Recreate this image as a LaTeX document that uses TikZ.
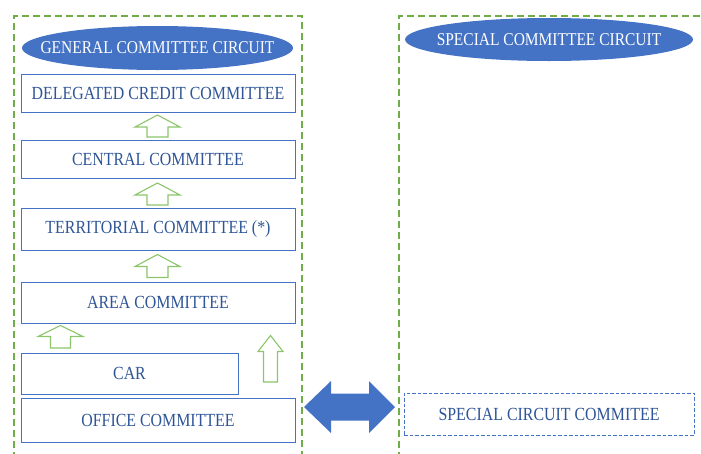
\documentclass[tikz,border=0pt]{standalone}
\usepackage{fontspec}
\setmainfont{Liberation Serif}[FakeStretch=0.86]
\usetikzlibrary{shapes.geometric}
\definecolor{boxblue}{HTML}{4472C4}
\definecolor{txtblue}{HTML}{2F5597}
\definecolor{dashgreen}{HTML}{70AD47}
\definecolor{arrowgreen}{HTML}{8CC56A}
\tikzset{
  circuitframe/.style={draw=dashgreen, line width=1.2pt, dash pattern=on 7pt off 4pt},
  stepbox/.style={draw=boxblue, line width=0.9pt, fill=white, text=txtblue,
    font=\fontsize{18.5}{21}\selectfont, inner sep=0pt, anchor=center},
  specialbox/.style={stepbox, dash pattern=on 3.5pt off 2pt},
  circuithead/.style={ellipse, fill=boxblue, draw=none, inner sep=0pt, anchor=center},
  headtext/.style={text=white, font=\fontsize{18}{21}\selectfont, inner sep=0pt, anchor=center},
  uparrowshape/.style={draw=arrowgreen, line width=1.1pt, fill=white, line join=miter},
  linkarrow/.style={fill=boxblue, draw=none}
}
% up arrow: centre x, tip y, base y, head half width, shaft half width, head length
\newcommand\UpArrowShape[6]{%
  \draw[uparrowshape] ({#1-#4},{#2+#6}) -- (#1,#2) -- ({#1+#4},{#2+#6})
    -- ({#1+#5},{#2+#6}) -- ({#1+#5},#3) -- ({#1-#5},#3) -- ({#1-#5},{#2+#6}) -- cycle;}
\begin{document}
\begin{tikzpicture}[x=1pt,y=-1pt]
\useasboundingbox (0,0) rectangle (701,453);
\begin{scope}
\clip (0,0) rectangle (701,453);
% the two circuits
\draw[circuitframe] (14,470) -- (14,16) -- (302,16) -- (302,470);
\draw[circuitframe] (399,470) -- (399,16) -- (720,16);
\end{scope}

% general committee circuit
\node[circuithead, minimum width=271pt, minimum height=44pt] (general) at (157.5,48) {};
\node[headtext] (generaltext) at (general.center) {GENERAL COMMITTEE CIRCUIT};
\node[stepbox, minimum width=274pt, minimum height=38pt] (delegated) at (158,93) {DELEGATED CREDIT COMMITTEE};
\node[stepbox, minimum width=274pt, minimum height=38pt] (central) at (158,159) {CENTRAL COMMITTEE};
\node[stepbox, minimum width=274pt, minimum height=42pt] (territorial) at (158,229.5) {TERRITORIAL COMMITTEE (*)};
\node[stepbox, minimum width=274pt, minimum height=41pt] (area) at (158,302.5) {AREA COMMITTEE};
\node[stepbox, minimum width=217pt, minimum height=41pt] (car) at (129.5,373.5) {CAR};
\node[stepbox, minimum width=274pt, minimum height=44pt] (office) at (158,420) {OFFICE COMMITTEE};

% escalation arrows
\UpArrowShape{157.5}{115}{137}{22.5}{10.5}{12}
\UpArrowShape{157.5}{183}{205}{22.5}{10.5}{12}
\UpArrowShape{157.5}{254.5}{277.5}{22.5}{10.5}{12}
\UpArrowShape{60.5}{325.5}{348}{22.5}{10}{11}
\UpArrowShape{270.5}{335.5}{382}{12.5}{7}{16}

% special committee circuit
\node[circuithead, minimum width=288pt, minimum height=43pt] (special) at (549,39.5) {};
\node[headtext] (specialtext) at (special.center) {SPECIAL COMMITTEE CIRCUIT};
\node[specialbox, minimum width=290pt, minimum height=42pt] (specialbox) at (549,414) {SPECIAL CIRCUIT COMMITEE};

% link between the circuits
\fill[linkarrow] (304,407) -- (331,381) -- (331,393.5) -- (369,393.5) -- (369,381)
  -- (395,407) -- (369,433) -- (369,420.5) -- (331,420.5) -- (331,433) -- cycle;
\end{tikzpicture}
\end{document}
